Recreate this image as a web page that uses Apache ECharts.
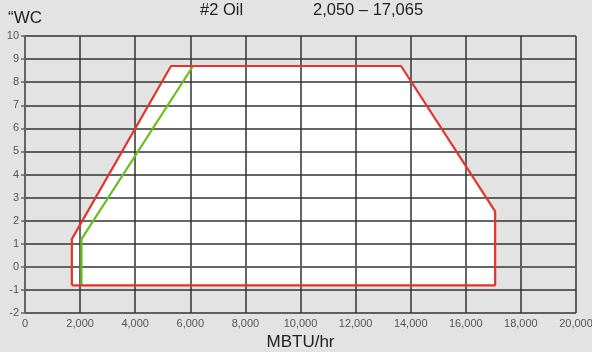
<!DOCTYPE html>
<html>
<head>
<meta charset="utf-8">
<script src="https://cdn.jsdelivr.net/npm/echarts@6/dist/echarts.min.js"></script>
<style>
  html, body { margin: 0; padding: 0; background: #e3e3e3; }
  #chart { width: 592px; height: 352px; }
</style>
</head>
<body>
<div id="chart"></div>
<script>
// Firing range envelope (MBTU/hr vs "WC)
const outerX = [1700, 1700, 5300, 13650, 17065, 17065, 1700];
const outerY = [-0.8, 1.2, 8.7, 8.7, 2.4, -0.8, -0.8];
const innerX = [2050, 2050, 6100];
const innerY = [-0.8, 1.2, 8.7];

const xTicks = [0, 2000, 4000, 6000, 8000, 10000, 12000, 14000, 16000, 18000, 20000];
const yTicks = [-2, -1, 0, 1, 2, 3, 4, 5, 6, 7, 8, 9, 10];

const pairs = (xs, ys) => xs.map((x, i) => [x, ys[i]]);
const font = '"Liberation Sans", Arial, sans-serif';

const chart = echarts.init(document.getElementById('chart'));
chart.setOption({
  backgroundColor: '#e3e3e3',
  animation: false,
  grid: { left: 25, right: 16, top: 36, bottom: 39, outerBoundsMode: 'none', containLabel: false },
  graphic: [
    { type: 'text', left: 8, top: 10, style: { text: '\u201cWC', font: '17px ' + font, fill: '#222' } },
    { type: 'text', left: 200, top: 2, style: { text: '#2 Oil', font: '16.5px ' + font, fill: '#222' } },
    { type: 'text', left: 313, top: 2, style: { text: '2,050 \u2013 17,065', font: '16.5px ' + font, fill: '#222' } }
  ],
  xAxis: {
    type: 'value', min: xTicks[0], max: xTicks[xTicks.length - 1], interval: 2000,
    z: 5,
    name: 'MBTU/hr', nameLocation: 'middle', nameGap: 20,
    nameTextStyle: { fontFamily: font, fontSize: 17, color: '#222' },
    axisLine: { lineStyle: { color: '#666', width: 1.5 } },
    axisTick: { show: true, length: 4, lineStyle: { color: '#666', width: 1.5 } },
    axisLabel: {
      fontFamily: font, fontSize: 11, color: '#555', margin: 5,
      formatter: v => v.toLocaleString('en-US')
    },
    splitLine: { show: true, lineStyle: { color: '#333', width: 1.5 } }
  },
  yAxis: {
    type: 'value', min: yTicks[0], max: yTicks[yTicks.length - 1], interval: 1,
    z: 5,
    axisLine: { show: true, lineStyle: { color: '#666', width: 1.5 } },
    axisTick: { show: true, length: 4, lineStyle: { color: '#666', width: 1.5 } },
    axisLabel: { fontFamily: font, fontSize: 11, color: '#555', margin: 6 },
    splitLine: { show: true, lineStyle: { color: '#333', width: 1.5 } }
  },
  series: [
    {
      // white fill of the operating envelope, kept under the grid lines
      type: 'custom',
      z: -1,
      silent: true,
      renderItem: (params, api) => ({
        type: 'polygon',
        shape: { points: pairs(outerX, outerY).map(p => api.coord(p)) },
        style: { fill: '#ffffff' }
      }),
      data: [0]
    },
    {
      type: 'line', z: 10, symbol: 'none',
      data: pairs(innerX, innerY),
      lineStyle: { color: '#66c01c', width: 2.2 }
    },
    {
      type: 'line', z: 11, symbol: 'none',
      data: pairs(outerX, outerY),
      lineStyle: { color: '#e2352b', width: 2.2 }
    }
  ]
});
</script>
</body>
</html>
